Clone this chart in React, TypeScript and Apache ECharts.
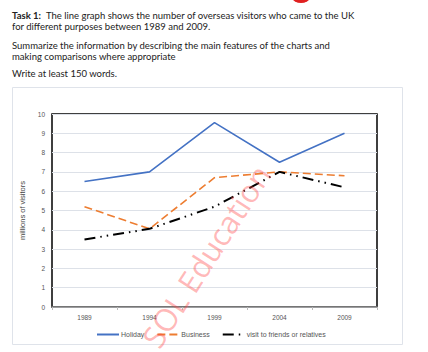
import React, { useEffect, useRef } from "react";
import * as echarts from "echarts";

const years = ["1989", "1994", "1999", "2004", "2009"];
const holiday = [6.5, 7, 9.55, 7.5, 9];
const business = [5.2, 4.05, 6.7, 7, 6.8];
const visit = [3.5, 4.05, 5.2, 7, 6.2];
const seriesNames = ["Holiday", "Business", "visit to friends or relatives"];
const headerLines = [
  "The line graph shows the number of overseas visitors who came to the UK",
  "for different purposes between 1989 and 2009.",
  "Summarize the information by describing the main features of the charts and",
  "making comparisons where appropriate",
  "Write at least 150 words.",
];

export default function App() {
  const ref = useRef<HTMLDivElement>(null);
  useEffect(() => {
    if (!ref.current) return;
    const chart = echarts.init(ref.current, null, { renderer: "svg" });
    const font = "Lato";
    const txt = (x: number, y: number, text: string, extra: any = {}) => ({
      type: "text",
      x,
      y,
      style: { text, fill: "#222", fontSize: 9.5, fontFamily: font, textVerticalAlign: "middle", ...extra },
      z: 10,
    });
    chart.setOption({
      animation: false,
      backgroundColor: "#fff",
      grid: { left: 52, top: 114, right: 51, bottom: 45, show: true, borderColor: "#000", borderWidth: 1.5, backgroundColor: "transparent" },
      xAxis: {
        type: "category",
        data: years,
        boundaryGap: true,
        axisLine: { lineStyle: { color: "#888", width: 1.5 } },
        axisTick: { show: true, length: 3, lineStyle: { color: "#bbb" } },
        axisLabel: { color: "#555", fontSize: 6.5, fontFamily: "Liberation Sans", margin: 7 },
      },
      yAxis: {
        type: "value",
        min: 0,
        max: 10,
        interval: 1,
        name: "millions of visitors",
        nameLocation: "middle",
        nameGap: 19,
        nameTextStyle: { color: "#444", fontSize: 7.5, fontFamily: "Liberation Sans" },
        axisLine: { show: false },
        axisTick: { show: false },
        axisLabel: { color: "#555", fontSize: 6.5, fontFamily: "Liberation Sans", margin: 7 },
        splitLine: { lineStyle: { color: "#dde1e8", width: 1 } },
      },
      legend: {
        left: 91,
        top: 326,
        itemWidth: 22,
        itemHeight: 8,
        itemGap: 12,
        itemStyle: { opacity: 0 },
        textStyle: { color: "#555", fontSize: 7, fontFamily: "Liberation Sans", padding: [0, 0, 0, -3] },
        data: seriesNames,
      },
      series: [
        {
          name: seriesNames[0],
          type: "line",
          data: holiday,
          symbol: "none",
          lineStyle: { color: "#4472C4", width: 1.6 },
          itemStyle: { color: "#4472C4" },
        },
        {
          name: seriesNames[1],
          type: "line",
          data: business,
          symbol: "none",
          lineStyle: { color: "#ED7D31", width: 1.6, type: [8, 4] },
          itemStyle: { color: "#ED7D31" },
        },
        {
          name: seriesNames[2],
          type: "line",
          data: visit,
          symbol: "none",
          lineStyle: { color: "#000", width: 2, type: [11, 5, 1.5, 5, 1.5, 5] },
          itemStyle: { color: "#000" },
        },
      ],
      graphic: [
        { type: "circle", shape: { cx: 301, cy: -9, r: 12 }, style: { fill: "#e02020" } },
        { type: "rect", shape: { x: 12.5, y: 87.5, width: 390, height: 257 }, style: { fill: "none", stroke: "#dfe3ea", lineWidth: 1 } },
        txt(12, 15, "Task 1:", { fontWeight: "bold" }),
        txt(46, 15, headerLines[0]),
        txt(12, 26, headerLines[1]),
        txt(12, 45, headerLines[2]),
        txt(12, 56, headerLines[3]),
        txt(12, 73, headerLines[4]),
        {
          type: "text",
          x: 206,
          y: 256,
          rotation: 1.0,
          style: {
            text: "SOL Education",
            fill: "rgba(255,70,70,0.38)",
            fontSize: 31,
            fontFamily: "Open Sans",
            textAlign: "center",
            textVerticalAlign: "middle",
          },
          z: 100,
        },
      ],
    });
    return () => chart.dispose();
  }, []);
  return <div ref={ref} style={{ position: "fixed", left: 0, top: 0, width: 428, height: 352 }} />;
}
